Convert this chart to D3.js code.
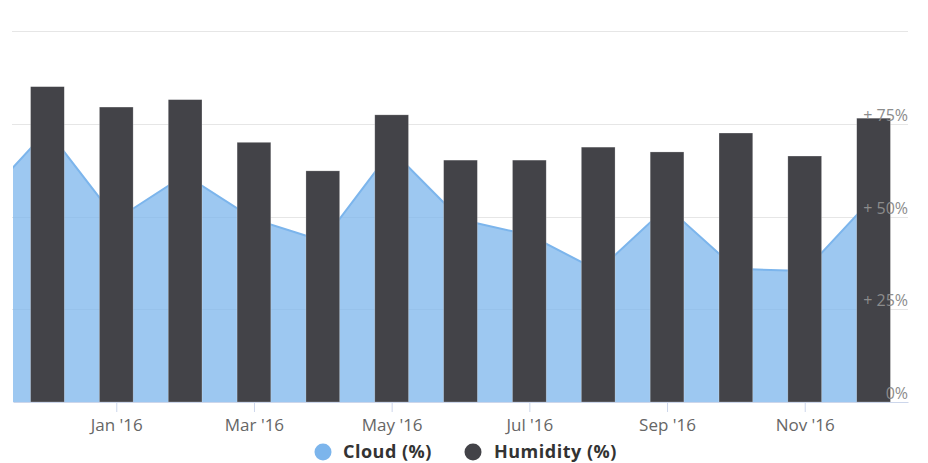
<!DOCTYPE html>
<html>
<head>
<meta charset="utf-8">
<script src="https://cdn.jsdelivr.net/npm/d3@7"></script>
<style>
  html, body { margin: 0; padding: 0; background: #fff; }
  svg { display: block; font-family: "Open Sans", sans-serif; }
</style>
</head>
<body>
<svg id="chart" width="928" height="463"></svg>
<script>
// Monthly categories shown on the axis (index 0 = Dec '15)
const months = ["Dec '15", "Jan '16", "Feb '16", "Mar '16", "Apr '16", "May '16", "Jun '16",
                "Jul '16", "Aug '16", "Sep '16", "Oct '16", "Nov '16", "Dec '16"];
// Humidity (%) per month, drawn as columns
const humidity = [85, 79.5, 81.5, 70, 62.3, 77.4, 65.2, 65.2, 68.7, 67.4, 72.5, 66.3, 76.5];
// Cloud (%) per month, starting one month earlier (Nov '15 at index -1)
const cloudStart = -1;
const cloud = [53.1, 73.3, 49.2, 61.2, 49.3, 43.4, 67.9, 49.2, 45.0, 35.4, 52.6, 35.9, 35.3, 55.3];
// Axis ticks
const xTickIdx = [1, 3, 5, 7, 9, 11];
const yTicks = [0, 25, 50, 75, 100];
const yTickLabels = ["0%", "+ 25%", "+ 50%", "+ 75%", ""];
const seriesNames = ["Cloud (%)", "Humidity (%)"];
const colors = ["#7cb5ec", "#434348"];

const svg = d3.select("#chart");
const plot = { left: 13, right: 908, top: 31, bottom: 402 };

const x = d3.scaleLinear().domain([-0.5, months.length - 0.5]).range([plot.left, plot.right]);
const y = d3.scaleLinear().domain([0, 100]).range([plot.bottom, plot.top]);
const step = x(1) - x(0);
const barW = step * 0.49;

svg.append("defs").append("clipPath").attr("id", "plotClip")
  .append("rect")
  .attr("x", plot.left).attr("y", 0)
  .attr("width", plot.right - plot.left).attr("height", plot.bottom);

// Grid lines
svg.append("g").selectAll("line")
  .data(yTicks.filter(v => v > 0))
  .join("line")
  .attr("x1", plot.left - 1).attr("x2", plot.right)
  .attr("y1", d => Math.round(y(d)) + 0.5).attr("y2", d => Math.round(y(d)) + 0.5)
  .attr("stroke", "#e6e6e6").attr("stroke-width", 1);

// Cloud area
const cloudPts = cloud.map((v, i) => ({ i: i + cloudStart, v }));
const area = d3.area().x(d => x(d.i)).y0(y(0)).y1(d => y(d.v));
const line = d3.line().x(d => x(d.i)).y(d => y(d.v));
const ga = svg.append("g").attr("clip-path", "url(#plotClip)");
ga.append("path").datum(cloudPts).attr("d", area)
  .attr("fill", colors[0]).attr("fill-opacity", 0.75);
ga.append("path").datum(cloudPts).attr("d", line)
  .attr("fill", "none").attr("stroke", colors[0]).attr("stroke-width", 2);

// Humidity columns
svg.append("g").selectAll("rect")
  .data(humidity)
  .join("rect")
  .attr("x", (d, i) => x(i) - barW / 2)
  .attr("y", d => y(d))
  .attr("width", barW)
  .attr("height", d => y(0) - y(d))
  .attr("fill", colors[1])
  .attr("stroke", "#ffffff").attr("stroke-opacity", 0.4).attr("stroke-width", 0.6);

// X axis
const xAxis = d3.axisBottom(x)
  .tickValues(xTickIdx)
  .tickFormat(i => months[i])
  .tickSizeInner(10).tickSizeOuter(0).tickPadding(6);
const gx = svg.append("g").attr("transform", `translate(0,${plot.bottom})`).call(xAxis);
gx.select(".domain").attr("stroke", "#ccd6eb");
gx.selectAll(".tick line").attr("stroke", "#ccd6eb");
gx.selectAll(".tick text")
  .attr("fill", "#666").attr("font-size", 17).attr("font-family", "Open Sans, sans-serif")
  .attr("dy", null).attr("y", 29);

// Y axis labels, inside the plot on the right
svg.append("g").selectAll("text")
  .data(yTicks.map((v, k) => ({ v, label: yTickLabels[k] })).filter(d => d.label))
  .join("text")
  .attr("x", plot.right)
  .attr("y", d => y(d.v) - 3)
  .attr("text-anchor", "end")
  .attr("font-size", 16)
  .attr("fill", "#8c8c8c")
  .text(d => d.label);

// Legend
const legend = svg.append("g");
const legendItems = [
  { name: seriesNames[0], color: colors[0], cx: 323, tx: 343 },
  { name: seriesNames[1], color: colors[1], cx: 473, tx: 494 }
];
legendItems.forEach(it => {
  legend.append("circle").attr("cx", it.cx).attr("cy", 452).attr("r", 8.5).attr("fill", it.color);
  legend.append("text").attr("x", it.tx).attr("y", 458)
    .attr("font-size", 18).attr("font-weight", "bold").attr("fill", "#333")
    .attr("letter-spacing", 0.5)
    .text(it.name);
});
</script>
</body>
</html>
